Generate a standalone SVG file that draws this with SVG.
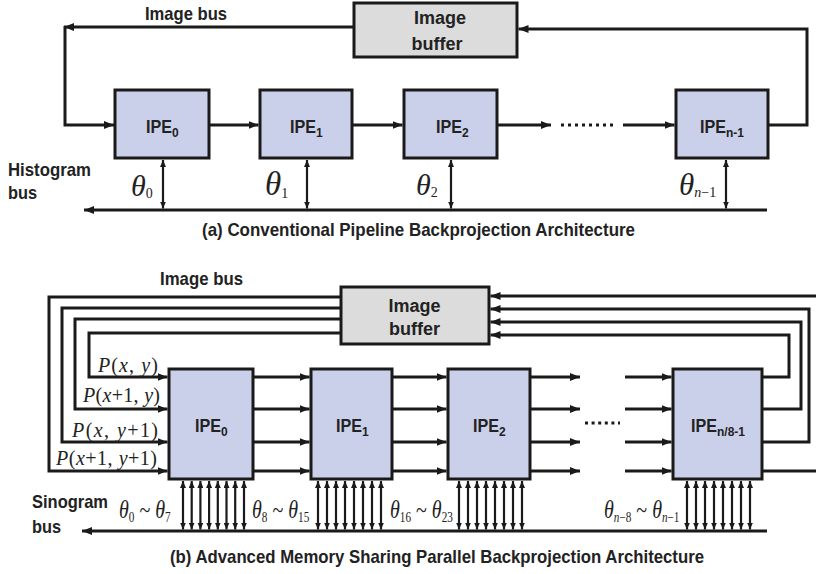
<svg xmlns="http://www.w3.org/2000/svg" width="816" height="574" viewBox="0 0 816 574">
<style>
.b{font-family:"Liberation Sans",Arial,sans-serif;font-weight:bold;fill:#222}
.m{font-family:"Liberation Serif","Times New Roman",serif;font-style:italic;fill:#222}
.r{font-style:normal}
.ipe{fill:#cbd0ea;stroke:#1a1a1a;stroke-width:3}
.buf{fill:#dcdcdc;stroke:#1a1a1a;stroke-width:3}
.w{fill:none;stroke:#1a1a1a;stroke-width:3}
.t{fill:none;stroke:#1a1a1a;stroke-width:2.2}
.d{fill:none;stroke:#1a1a1a;stroke-width:3}
</style>
<defs>
<marker id="a" viewBox="0 0 10 8" refX="10" refY="4" markerWidth="10" markerHeight="8" markerUnits="userSpaceOnUse" orient="auto"><path d="M0,0L10,4L0,8z" fill="#1a1a1a"/></marker>
<marker id="s" viewBox="0 0 7 6" refX="7" refY="3" markerWidth="7" markerHeight="6" markerUnits="userSpaceOnUse" orient="auto-start-reverse"><path d="M0,0L7,3L0,6z" fill="#1a1a1a"/></marker>
</defs>
<rect width="816" height="574" fill="#fff"/>

<!-- (a) nodes -->
<g id="buf-a"><rect class="buf" x="354" y="3" width="163" height="54"/>
<text class="b" x="440" y="24" font-size="18" text-anchor="middle">Image</text>
<text class="b" x="437" y="50" font-size="18" text-anchor="middle">buffer</text></g>
<g id="ipe-a0"><rect class="ipe" x="115" y="90" width="94" height="68"/>
<text class="b" font-size="19" transform="translate(146,133) scale(0.85,1)">IPE</text>
<text class="b" x="172" y="137" font-size="12">0</text></g>
<g id="ipe-a1"><rect class="ipe" x="260" y="90" width="92" height="68"/>
<text class="b" font-size="19" transform="translate(290,133) scale(0.85,1)">IPE</text>
<text class="b" x="316" y="137" font-size="12">1</text></g>
<g id="ipe-a2"><rect class="ipe" x="404" y="90" width="93" height="68"/>
<text class="b" font-size="19" transform="translate(436,133) scale(0.85,1)">IPE</text>
<text class="b" x="462" y="137" font-size="12">2</text></g>
<g id="ipe-an"><rect class="ipe" x="676" y="90" width="92" height="68"/>
<text class="b" font-size="19" transform="translate(700,133) scale(0.85,1)">IPE</text>
<text class="b" x="726" y="137" font-size="12">n-1</text></g>

<!-- (b) nodes -->
<g id="buf-b"><rect class="buf" x="341" y="287" width="148" height="57"/>
<text class="b" x="414.5" y="312" font-size="18" text-anchor="middle">Image</text>
<text class="b" x="414.5" y="335" font-size="18" text-anchor="middle">buffer</text></g>
<g id="ipe-b0"><rect class="ipe" x="169" y="369" width="84" height="110"/>
<text class="b" font-size="19" transform="translate(195,432) scale(0.85,1)">IPE</text>
<text class="b" x="221" y="436" font-size="12">0</text></g>
<g id="ipe-b1"><rect class="ipe" x="311" y="369" width="81" height="110"/>
<text class="b" font-size="19" transform="translate(336,432) scale(0.85,1)">IPE</text>
<text class="b" x="362" y="436" font-size="12">1</text></g>
<g id="ipe-b2"><rect class="ipe" x="448" y="369" width="82" height="110"/>
<text class="b" font-size="19" transform="translate(473,432) scale(0.85,1)">IPE</text>
<text class="b" x="499" y="436" font-size="12">2</text></g>
<g id="ipe-bn"><rect class="ipe" x="673" y="369" width="89" height="110"/>
<text class="b" font-size="19" transform="translate(691,432) scale(0.85,1)">IPE</text>
<text class="b" x="717" y="436" font-size="12">n/8-1</text></g>

<!-- connectors -->
<g id="connectors">
<path class="w" d="M354,27H64" marker-end="url(#a)"/>
<path class="w" d="M65,26V125H114" marker-end="url(#a)"/>
<path class="w" d="M209,125H258.5" marker-end="url(#a)"/>
<path class="w" d="M352,125H402.5" marker-end="url(#a)"/>
<path class="w" d="M497,125H551" marker-end="url(#a)"/>
<path class="d" d="M561,125H614" stroke-dasharray="3 4"/>
<path class="w" d="M623,125H674.5" marker-end="url(#a)"/>
<path class="w" d="M768,125H807V29H518.5" marker-end="url(#a)"/>
<path class="w" d="M767,210H84" marker-end="url(#a)"/>
<line class="t" x1="163" y1="160" x2="163" y2="208.5" marker-start="url(#s)" marker-end="url(#s)"/>
<line class="t" x1="307" y1="160" x2="307" y2="208.5" marker-start="url(#s)" marker-end="url(#s)"/>
<line class="t" x1="451" y1="160" x2="451" y2="208.5" marker-start="url(#s)" marker-end="url(#s)"/>
<line class="t" x1="726" y1="160" x2="726" y2="208.5" marker-start="url(#s)" marker-end="url(#s)"/>

<path class="w" d="M341,297H49V471H167.5" marker-end="url(#a)"/>
<path class="w" d="M341,308H62V442H167.5" marker-end="url(#a)"/>
<path class="w" d="M341,319H75V409H167.5" marker-end="url(#a)"/>
<path class="w" d="M341,333H89V377H167.5" marker-end="url(#a)"/>
<path class="w" d="M762,377H789V335H490.5" marker-end="url(#a)"/>
<path class="w" d="M762,409H801V322H490.5" marker-end="url(#a)"/>
<path class="w" d="M762,442H809V309H490.5" marker-end="url(#a)"/>
<path class="w" d="M762,471H820V296H490.5" marker-end="url(#a)"/>

<path class="w" d="M253,377H309.5" marker-end="url(#a)"/>
<path class="w" d="M253,409H309.5" marker-end="url(#a)"/>
<path class="w" d="M253,442H309.5" marker-end="url(#a)"/>
<path class="w" d="M253,471H309.5" marker-end="url(#a)"/>
<path class="w" d="M392,377H446.5" marker-end="url(#a)"/>
<path class="w" d="M392,409H446.5" marker-end="url(#a)"/>
<path class="w" d="M392,442H446.5" marker-end="url(#a)"/>
<path class="w" d="M392,471H446.5" marker-end="url(#a)"/>
<path class="w" d="M530,377H580" marker-end="url(#a)"/>
<path class="w" d="M530,409H580" marker-end="url(#a)"/>
<path class="w" d="M530,442H580" marker-end="url(#a)"/>
<path class="w" d="M530,471H580" marker-end="url(#a)"/>
<path class="w" d="M625,377H671.5" marker-end="url(#a)"/>
<path class="w" d="M625,409H671.5" marker-end="url(#a)"/>
<path class="w" d="M625,442H671.5" marker-end="url(#a)"/>
<path class="w" d="M625,471H671.5" marker-end="url(#a)"/>
<path class="d" d="M585,423H620" stroke-dasharray="3 3.6"/>
<path class="w" d="M767,531H82" marker-end="url(#a)"/>

<g id="sino-arrows" class="t" marker-start="url(#s)" marker-end="url(#s)">
<line x1="183" y1="481" x2="183" y2="529.5"/><line x1="191.7" y1="481" x2="191.7" y2="529.5"/><line x1="200.4" y1="481" x2="200.4" y2="529.5"/><line x1="209.1" y1="481" x2="209.1" y2="529.5"/><line x1="217.8" y1="481" x2="217.8" y2="529.5"/><line x1="226.5" y1="481" x2="226.5" y2="529.5"/><line x1="235.2" y1="481" x2="235.2" y2="529.5"/><line x1="244" y1="481" x2="244" y2="529.5"/>
<line x1="318" y1="481" x2="318" y2="529.5"/><line x1="327" y1="481" x2="327" y2="529.5"/><line x1="336" y1="481" x2="336" y2="529.5"/><line x1="345" y1="481" x2="345" y2="529.5"/><line x1="354" y1="481" x2="354" y2="529.5"/><line x1="363" y1="481" x2="363" y2="529.5"/><line x1="372" y1="481" x2="372" y2="529.5"/><line x1="381" y1="481" x2="381" y2="529.5"/>
<line x1="459" y1="481" x2="459" y2="529.5"/><line x1="468" y1="481" x2="468" y2="529.5"/><line x1="477" y1="481" x2="477" y2="529.5"/><line x1="486" y1="481" x2="486" y2="529.5"/><line x1="495" y1="481" x2="495" y2="529.5"/><line x1="504" y1="481" x2="504" y2="529.5"/><line x1="513" y1="481" x2="513" y2="529.5"/><line x1="522" y1="481" x2="522" y2="529.5"/>
<line x1="687" y1="481" x2="687" y2="529.5"/><line x1="696" y1="481" x2="696" y2="529.5"/><line x1="705" y1="481" x2="705" y2="529.5"/><line x1="714" y1="481" x2="714" y2="529.5"/><line x1="723" y1="481" x2="723" y2="529.5"/><line x1="732" y1="481" x2="732" y2="529.5"/><line x1="741" y1="481" x2="741" y2="529.5"/><line x1="750" y1="481" x2="750" y2="529.5"/>
</g>
</g>

<!-- labels (a) -->
<text class="b" x="145" y="20" font-size="19" textLength="82" lengthAdjust="spacingAndGlyphs">Image bus</text>
<text class="b" x="8" y="176" font-size="19" textLength="83" lengthAdjust="spacingAndGlyphs">Histogram</text>
<text class="b" x="8" y="199" font-size="19" textLength="29" lengthAdjust="spacingAndGlyphs">bus</text>
<text class="m" x="131" y="196" font-size="30">θ<tspan class="r" dy="2" font-size="14">0</tspan></text>
<text class="m" x="265" y="195" font-size="33">θ<tspan class="r" dy="3" font-size="14">1</tspan></text>
<text class="m" x="416" y="195" font-size="30">θ<tspan class="r" dy="2" font-size="14">2</tspan></text>
<text class="m" x="679" y="195" font-size="31">θ<tspan dy="2" font-size="14">n</tspan><tspan class="r" font-size="14">−1</tspan></text>
<text class="b" x="202" y="236" font-size="19" textLength="433" lengthAdjust="spacingAndGlyphs">(a)  Conventional Pipeline Backprojection Architecture</text>

<!-- labels (b) -->
<text class="b" x="160" y="285" font-size="19" textLength="83" lengthAdjust="spacingAndGlyphs">Image bus</text>
<text class="m" x="98" y="372" font-size="20" textLength="60" lengthAdjust="spacing">P<tspan class="r">(</tspan>x<tspan class="r">, </tspan>y<tspan class="r">)</tspan></text>
<text class="m" x="83" y="402" font-size="20" textLength="77" lengthAdjust="spacing">P<tspan class="r">(</tspan>x<tspan class="r">+1, </tspan>y<tspan class="r">)</tspan></text>
<text class="m" x="72" y="437" font-size="20" textLength="86" lengthAdjust="spacing">P<tspan class="r">(</tspan>x<tspan class="r">, </tspan>y<tspan class="r">+1)</tspan></text>
<text class="m" x="56" y="465" font-size="20" textLength="101" lengthAdjust="spacing">P<tspan class="r">(</tspan>x<tspan class="r">+1, </tspan>y<tspan class="r">+1)</tspan></text>
<text class="b" x="32" y="508" font-size="19" textLength="76" lengthAdjust="spacingAndGlyphs">Sinogram</text>
<text class="b" x="32" y="533" font-size="19" textLength="29" lengthAdjust="spacingAndGlyphs">bus</text>
<text class="m" font-size="25" transform="translate(119,518) scale(0.8,1)">θ<tspan class="r" dy="4" font-size="14">0</tspan><tspan class="r" dy="-4"> ~ </tspan>θ<tspan class="r" dy="4" font-size="14">7</tspan></text>
<text class="m" font-size="25" transform="translate(252,518) scale(0.8,1)">θ<tspan class="r" dy="4" font-size="14">8</tspan><tspan class="r" dy="-4"> ~ </tspan>θ<tspan class="r" dy="4" font-size="14">15</tspan></text>
<text class="m" font-size="25" transform="translate(390,518) scale(0.8,1)">θ<tspan class="r" dy="4" font-size="14">16</tspan><tspan class="r" dy="-4"> ~ </tspan>θ<tspan class="r" dy="4" font-size="14">23</tspan></text>
<text class="m" font-size="25" transform="translate(604,518) scale(0.8,1)">θ<tspan dy="4" font-size="14">n</tspan><tspan class="r" font-size="14">−8</tspan><tspan class="r" dy="-4"> ~ </tspan>θ<tspan dy="4" font-size="14">n</tspan><tspan class="r" font-size="14">−1</tspan></text>
<text class="b" x="170" y="563" font-size="19" textLength="534" lengthAdjust="spacingAndGlyphs">(b) Advanced Memory Sharing Parallel Backprojection Architecture</text>
</svg>
